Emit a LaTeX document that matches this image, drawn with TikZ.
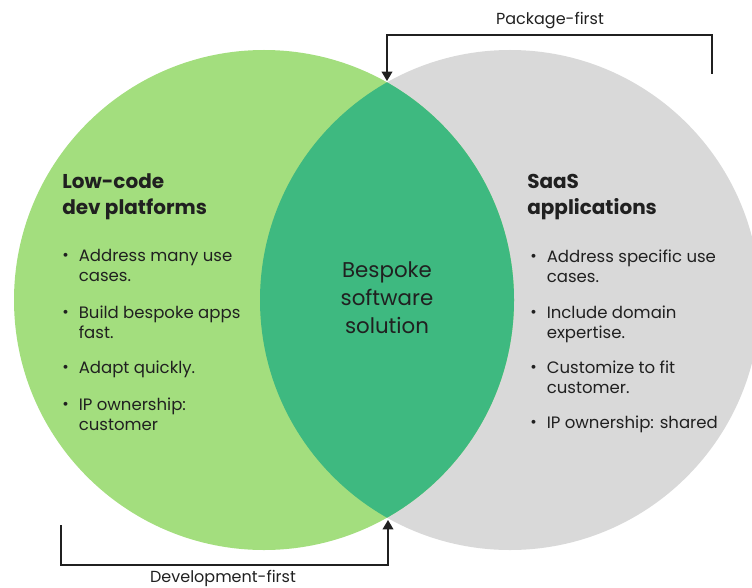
\documentclass[tikz,border=0pt]{standalone}
\usepackage{fontspec}
\setmainfont{Poppins}
\usepackage{tikz}
\usetikzlibrary{arrows.meta, positioning}

\definecolor{leafgreen}{RGB}{163,222,126}
\definecolor{lensgreen}{RGB}{62,185,128}
\definecolor{saasgray}{RGB}{217,217,217}
\definecolor{inkdark}{RGB}{32,32,32}

\newcommand{\dotmark}{\makebox[12.4pt][l]{\raisebox{0.05ex}{\scalebox{0.95}{\textbullet}}}}

\tikzset{
  head/.style={anchor=base west, inner sep=0pt, text=inkdark, font=\bfseries\fontsize{15}{19.5}\selectfont},
  point/.style={anchor=base west, inner sep=0pt, text=inkdark, font=\fontsize{12.4}{15.5}\selectfont},
  core/.style={align=center, inner sep=0pt, text=inkdark, font=\fontsize{16}{21}\selectfont},
  route/.style={draw=inkdark, line width=1.1pt, -{Triangle[width=8pt,length=7pt]}},
  routelbl/.style={inner sep=0pt, text=inkdark, font=\fontsize{12}{15}\selectfont}
}

\begin{document}
\begin{tikzpicture}[x=0.75pt,y=0.75pt,yscale=-1,xscale=1]
    \useasboundingbox (0,0) rectangle (752,588);

    %Shape: Circles
    \fill[saasgray] (510,300) circle (250);
    \fill[leafgreen] (264,300) circle (250);
    \begin{scope}
      \clip (264,300) circle (250);
      \fill[lensgreen] (510,300) circle (250);
    \end{scope}

    % Text Node: left circle
    \node[head] (lowcode) at (62,188) {\begin{tabular}[t]{@{}l@{}}Low-code\\dev platforms\end{tabular}};
    \node[point] (lc1) at (62,261) {\begin{tabular}[t]{@{}l@{}l@{}}\dotmark&Address many use\\&cases.\end{tabular}};
    \node[point] (lc2) at (62,318) {\begin{tabular}[t]{@{}l@{}l@{}}\dotmark&Build bespoke apps\\&fast.\end{tabular}};
    \node[point] (lc3) at (62,373) {\begin{tabular}[t]{@{}l@{}l@{}}\dotmark&Adapt quickly.\end{tabular}};
    \node[point] (lc4) at (62,410) {\begin{tabular}[t]{@{}l@{}l@{}}\dotmark&IP ownership:\\&customer\end{tabular}};

    % Text Node: lens
    \node[core] (bespoke) at (387,298) {Bespoke\\software\\solution};

    % Text Node: right circle
    \node[head] (saas) at (527,188) {\begin{tabular}[t]{@{}l@{}}SaaS\\applications\end{tabular}};
    \node[point] (sa1) at (530,262) {\begin{tabular}[t]{@{}l@{}l@{}}\dotmark&Address specific use\\&cases.\end{tabular}};
    \node[point] (sa2) at (530,318) {\begin{tabular}[t]{@{}l@{}l@{}}\dotmark&Include domain\\&expertise.\end{tabular}};
    \node[point] (sa3) at (530,373) {\begin{tabular}[t]{@{}l@{}l@{}}\dotmark&Customize to fit\\&customer.\end{tabular}};
    \node[point] (sa4) at (530,428) {\begin{tabular}[t]{@{}l@{}l@{}}\dotmark&IP ownership: shared\end{tabular}};

    % Arrows
    \coordinate (pkgfoot) at (712,74);
    \coordinate (toptip) at (387,81);
    \coordinate (devfoot) at (61,525);
    \coordinate (bottip) at (388,520);
    \node[routelbl] (pkg) at (550,21) {Package-first};
    \node[routelbl] (dev) at (223,578) {Development-first};
    \draw[route] (pkgfoot) -- ++(0,-39) -| (toptip);
    \draw[route] (devfoot) -- ++(0,40) -| (bottip);

\end{tikzpicture}
\end{document}
